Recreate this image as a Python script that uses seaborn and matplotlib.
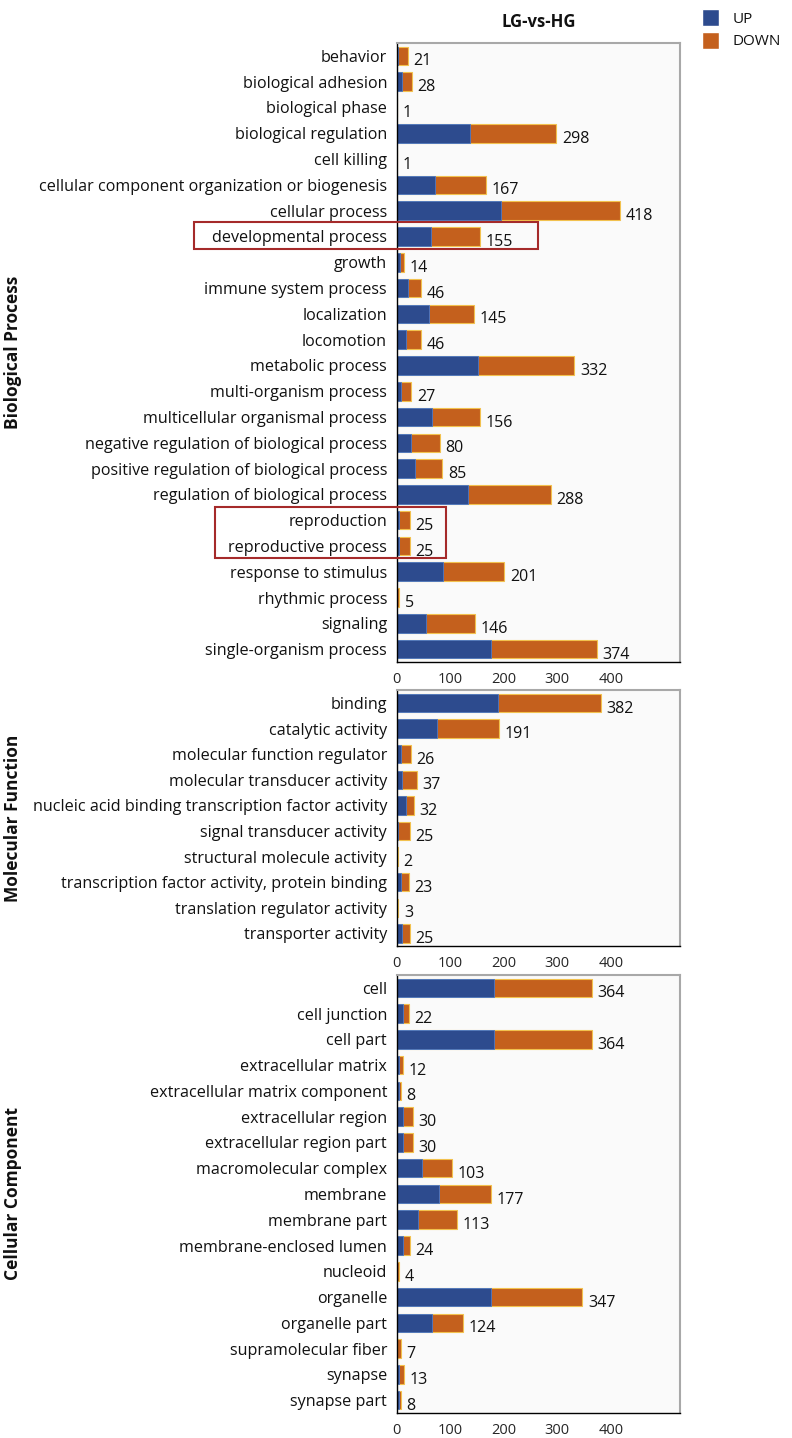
import pandas as pd
import matplotlib.pyplot as plt
import seaborn as sns
from matplotlib.patches import Rectangle, Patch

# GO terms and UP / DOWN gene counts per category
bp_terms = ['behavior', 'biological adhesion', 'biological phase', 'biological regulation',
            'cell killing', 'cellular component organization or biogenesis', 'cellular process',
            'developmental process', 'growth', 'immune system process', 'localization',
            'locomotion', 'metabolic process', 'multi-organism process',
            'multicellular organismal process', 'negative regulation of biological process',
            'positive regulation of biological process', 'regulation of biological process',
            'reproduction', 'reproductive process', 'response to stimulus', 'rhythmic process',
            'signaling', 'single-organism process']
bp_up = [3, 10, 0, 137, 0, 72, 195, 64, 6, 21, 61, 17, 152, 8, 66, 27, 34, 134, 4, 4, 87, 0, 54, 176]
bp_down = [18, 18, 1, 161, 1, 95, 223, 91, 8, 25, 84, 29, 180, 19, 90, 53, 51, 154, 21, 21, 114, 5, 92, 198]

mf_terms = ['binding', 'catalytic activity', 'molecular function regulator',
            'molecular transducer activity', 'nucleic acid binding transcription factor activity',
            'signal transducer activity', 'structural molecule activity',
            'transcription factor activity, protein binding', 'translation regulator activity',
            'transporter activity']
mf_up = [190, 76, 8, 10, 18, 3, 0, 8, 0, 9]
mf_down = [192, 115, 18, 27, 14, 22, 2, 15, 3, 16]

cc_terms = ['cell', 'cell junction', 'cell part', 'extracellular matrix',
            'extracellular matrix component', 'extracellular region', 'extracellular region part',
            'macromolecular complex', 'membrane', 'membrane part', 'membrane-enclosed lumen',
            'nucleoid', 'organelle', 'organelle part', 'supramolecular fiber', 'synapse',
            'synapse part']
cc_up = [182, 11, 182, 4, 4, 11, 11, 48, 78, 40, 11, 0, 176, 65, 1, 5, 4]
cc_down = [182, 11, 182, 8, 4, 19, 19, 55, 99, 73, 13, 4, 171, 59, 6, 8, 4]

groups = ['Biological Process', 'Molecular Function', 'Cellular Component']
xticks = [0, 100, 200, 300, 400]

UP_COLOR = '#2d4b8e'
DOWN_COLOR = '#c4601d'

sns.set_style('white')
plt.rcParams['font.family'] = ['Open Sans', 'DejaVu Sans']
plt.rcParams['text.color'] = '#111111'
plt.rcParams['ytick.labelcolor'] = '#111111'

fig = plt.figure(figsize=(7.92, 14.38), dpi=100)

# axes rectangles in figure fractions (left, bottom, width, height)
panels = [
    (bp_terms, bp_up, bp_down, [0.501, 0.5396, 0.358, 0.4305]),
    (mf_terms, mf_up, mf_down, [0.501, 0.342, 0.358, 0.178]),
    (cc_terms, cc_up, cc_down, [0.501, 0.0174, 0.358, 0.3046]),
]

for (terms, up, down, rect), group in zip(panels, groups):
    df = pd.DataFrame({'term': terms, 'up': up, 'down': down})
    df['total'] = df['up'] + df['down']
    ax = fig.add_axes(rect)
    ax.set_facecolor('#fafafa')
    sns.barplot(data=df, x='total', y='term', color=DOWN_COLOR, saturation=1,
                width=0.72, edgecolor='#f2c14e', linewidth=0.8, ax=ax)
    sns.barplot(data=df, x='up', y='term', color=UP_COLOR, saturation=1,
                width=0.72, edgecolor='#4a78c8', linewidth=0.6, ax=ax)
    for i, t in enumerate(df['total']):
        ax.annotate(str(t), (t, i), xytext=(4, -4), textcoords='offset points',
                    va='center', ha='left', fontsize=11.5, color='#111111')
    ax.set_xlim(0, 530)
    ax.set_xticks(xticks)
    ax.set_xlabel('')
    ax.set_ylabel('')
    ax.tick_params(axis='y', length=5, width=1, color='black', labelsize=11.6, pad=2)
    ax.tick_params(axis='x', length=5, width=1, color='black', labelsize=10.5, pad=2)
    for s in ['top', 'right']:
        ax.spines[s].set_color('#a8a8a8')
        ax.spines[s].set_linewidth(1.5)
    for s in ['left', 'bottom']:
        ax.spines[s].set_color('black')
        ax.spines[s].set_linewidth(1)
    ax.set_xticklabels([str(x) for x in xticks])
    ymid = rect[1] + rect[3] / 2
    fig.text(0.016, ymid, group, rotation=90, va='center', ha='center',
             fontsize=12.5, fontweight='bold')

fig.text(0.68, 1 - 22 / 1438, 'LG-vs-HG', ha='center', va='center',
         fontsize=12, fontweight='bold')

handles = [Patch(facecolor=UP_COLOR, label='UP'), Patch(facecolor=DOWN_COLOR, label='DOWN')]
fig.legend(handles=handles, loc='upper left', bbox_to_anchor=(0.875, 1.0), frameon=False,
           fontsize=11, handlelength=1.1, handleheight=1.3, labelspacing=0.35,
           handletextpad=0.9, borderaxespad=0.2)

# red highlight boxes (pixel coordinates of the reference)
H = 1438.0
W = 792.0
for x0, y0, x1, y1 in [(194, 222, 538, 249), (215, 507, 446, 558)]:
    fig.patches.append(Rectangle((x0 / W, 1 - y1 / H), (x1 - x0) / W, (y1 - y0) / H,
                                 transform=fig.transFigure, fill=False,
                                 edgecolor='#a52a2a', linewidth=1.5, zorder=10))

plt.savefig('out.png', dpi=100)
